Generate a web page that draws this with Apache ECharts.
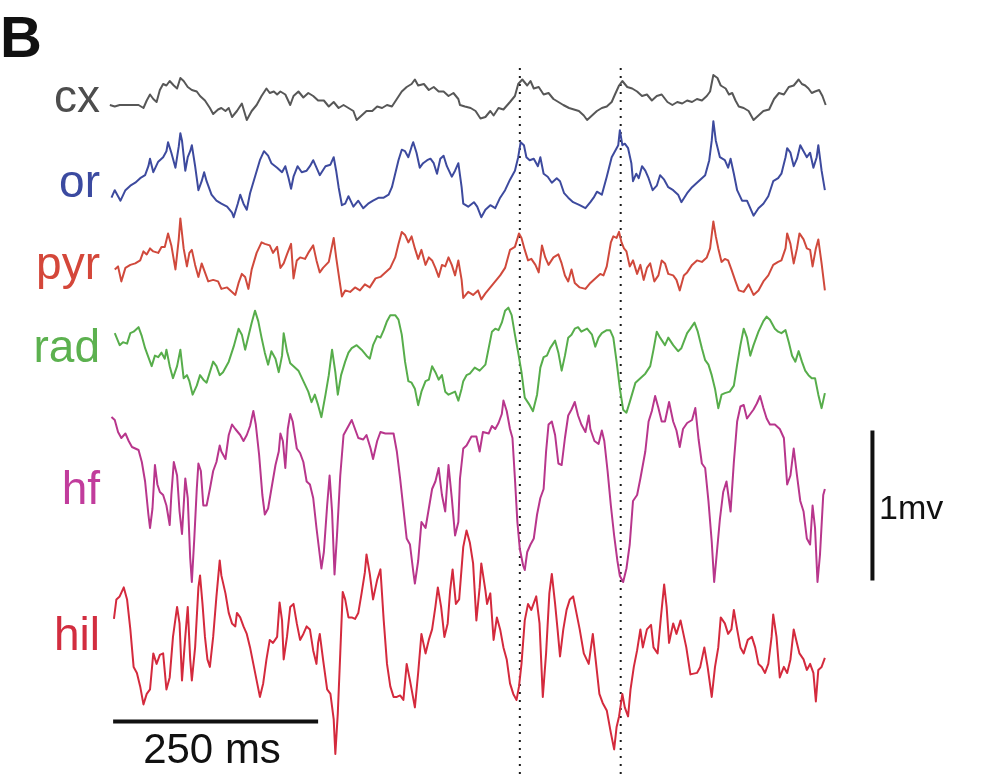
<!DOCTYPE html>
<html>
<head>
<meta charset="utf-8">
<style>
  html, body { margin: 0; padding: 0; background: #ffffff; }
  #chart { width: 1000px; height: 774px; }
</style>
<script src="https://cdn.jsdelivr.net/npm/echarts@6/dist/echarts.min.js"></script>
</head>
<body>
<div id="chart"></div>
<script>
// Channel names, top to bottom
const traceNames = ['cx', 'or', 'pyr', 'rad', 'hf', 'hil'];

// Each trace: [time (ms), potential (mV, relative to the channel's own baseline)]
const cxTrace = [[12,0],[18,-0.01],[24,0],[33,0],[41,0],[47,0],[53,-0.02],[57,0.03],[61,0.07],[65,0.04],[69,0.02],[73,0.10],[77,0.14],[81,0.13],[85,0.16],[90,0.13],[94,0.11],[98,0.18],[102,0.16],[107,0.12],[112,0.10],[118,0.09],[122,0.06],[128,0.03],[134,-0.02],[138,-0.06],[144,-0.03],[148,-0.02],[153,-0.04],[157,-0.02],[161,-0.08],[167,-0.04],[173,0.01],[179,-0.10],[185,-0.04],[191,0],[197,0.06],[203,0.11],[207,0.08],[212,0.09],[216,0.07],[220,0.09],[226,0.07],[232,0],[236,0.06],[242,0.09],[248,0.05],[254,0.08],[260,0.06],[266,0.03],[273,0.03],[279,-0.01],[285,0.02],[291,-0.02],[297,0],[303,-0.02],[309,-0.04],[313,-0.10],[319,-0.07],[325,-0.04],[332,-0.04],[338,-0.01],[344,-0.02],[350,0],[356,-0.01],[362,0.04],[368,0.09],[374,0.12],[380,0.14],[384,0.17],[388,0.13],[395,0.14],[401,0.10],[407,0.12],[413,0.09],[419,0.09],[425,0.06],[431,0.08],[437,0.04],[439,0],[445,-0.01],[452,-0.02],[458,-0.04],[464,-0.09],[470,-0.08],[476,-0.04],[480,-0.07],[486,-0.02],[492,-0.03],[500,0.02],[506,0.06],[510,0.14],[515,0.17],[521,0.13],[525,0.16],[529,0.11],[535,0.12],[541,0.07],[547,0.08],[553,0.04],[559,0.02],[565,0],[572,-0.02],[578,-0.03],[584,-0.04],[590,-0.07],[594,-0.10],[600,-0.07],[606,-0.04],[612,-0.02],[618,-0.01],[624,0.02],[628,0.07],[633,0.13],[637,0.16],[643,0.12],[649,0.11],[655,0.09],[661,0.06],[667,0.07],[673,0.03],[679,0.06],[685,0.07],[692,0.02],[698,0],[704,0.02],[710,0.01],[716,0.03],[722,0.02],[728,0.04],[734,0.03],[740,0.06],[744,0.09],[748,0.20],[753,0.18],[757,0.13],[763,0.11],[767,0.07],[771,0.08],[775,0.03],[779,-0.01],[785,-0.02],[791,-0.04],[797,-0.10],[803,-0.07],[809,-0.04],[816,-0.03],[822,0.04],[828,0.08],[834,0.07],[840,0.12],[846,0.13],[852,0.17],[856,0.14],[860,0.13],[864,0.11],[868,0.08],[872,0.09],[877,0.10],[881,0.06],[885,0]];

const orTrace = [[14,-0.14],[18,-0.09],[22,-0.13],[25,-0.16],[31,-0.09],[37,-0.06],[43,-0.04],[49,-0.01],[55,0.01],[59,0.07],[61,0.12],[65,0.03],[71,0.10],[77,0.13],[81,0.17],[83,0.23],[87,0.16],[92,0.06],[96,0.20],[98,0.29],[100,0.24],[104,0.04],[107,0.13],[110,0.17],[112,0.21],[116,0.07],[120,-0.09],[124,-0.03],[127,0.03],[130,-0.03],[136,-0.12],[142,-0.16],[148,-0.18],[155,-0.20],[161,-0.24],[163,-0.27],[168,-0.18],[171,-0.12],[175,-0.18],[179,-0.22],[183,-0.11],[189,0],[195,0.11],[200,0.17],[205,0.14],[209,0.09],[216,0.06],[222,0.03],[226,0.07],[230,-0.01],[233,-0.08],[236,0],[241,0.07],[246,0.03],[252,0.04],[256,0.07],[260,0.11],[264,0.06],[268,0.01],[275,0.07],[281,0.08],[285,0.13],[288,0.04],[291,-0.07],[295,-0.19],[299,-0.18],[303,-0.13],[309,-0.20],[315,-0.16],[321,-0.21],[327,-0.18],[333,-0.16],[340,-0.14],[346,-0.14],[352,-0.12],[356,-0.07],[360,0.02],[364,0.11],[368,0.18],[372,0.17],[376,0.13],[380,0.20],[382,0.23],[386,0.16],[390,0.06],[394,0.09],[399,0.11],[403,0.12],[407,0.09],[411,0.02],[415,0.12],[419,0.14],[423,0.07],[429,0],[433,0.04],[437,0.09],[441,-0.07],[443,-0.18],[449,-0.20],[456,-0.17],[460,-0.20],[465,-0.27],[470,-0.22],[476,-0.19],[482,-0.21],[488,-0.14],[494,-0.09],[500,-0.02],[506,0.04],[510,0.13],[513,0.23],[517,0.21],[520,0.13],[524,0.11],[529,0.12],[534,0.07],[537,0.13],[541,0.02],[546,0],[551,-0.04],[557,-0.01],[561,-0.03],[566,-0.11],[571,-0.14],[577,-0.17],[581,-0.18],[585,-0.19],[592,-0.21],[598,-0.17],[602,-0.14],[606,-0.10],[612,-0.12],[618,0],[624,0.13],[628,0.17],[632,0.21],[634,0.31],[637,0.21],[640,0.22],[644,0.19],[648,0.09],[650,-0.03],[654,0.02],[657,-0.01],[661,0.07],[665,0.04],[669,-0.01],[674,-0.09],[679,-0.06],[683,0.01],[688,-0.02],[693,-0.07],[699,-0.09],[705,-0.12],[709,-0.17],[716,-0.11],[722,-0.07],[728,-0.04],[734,-0.01],[738,0.01],[743,0.11],[746,0.24],[748,0.37],[751,0.24],[756,0.13],[762,0.11],[766,0.06],[769,0.12],[773,0.02],[777,-0.09],[783,-0.16],[789,-0.16],[797,-0.26],[803,-0.21],[809,-0.18],[815,-0.13],[821,-0.03],[827,-0.01],[831,0.02],[836,0.13],[838,0.19],[842,0.16],[846,0.07],[850,0.12],[854,0.21],[858,0.17],[862,0.13],[866,0.16],[870,0.06],[874,0.13],[876,0.21],[880,0.04],[884,-0.09]];

const pyrTrace = [[18,-0.04],[22,-0.02],[26,-0.12],[31,-0.03],[37,-0.01],[43,0],[49,0.02],[53,0.08],[57,0.06],[61,0.10],[65,0.08],[71,0.07],[75,0.11],[79,0.11],[83,0.20],[87,0.12],[92,-0.04],[96,0.16],[98,0.30],[102,0.10],[106,-0.02],[109,0.07],[112,0.09],[116,-0.01],[120,-0.09],[124,0],[128,-0.06],[132,-0.12],[138,-0.11],[144,-0.12],[148,-0.17],[155,-0.16],[161,-0.19],[165,-0.21],[169,-0.13],[173,-0.07],[177,-0.09],[181,-0.17],[185,-0.04],[191,0.07],[197,0.14],[201,0.13],[207,0.12],[211,0.07],[216,0.11],[220,-0.03],[224,0],[228,0.06],[233,0.13],[236,-0.10],[240,0.02],[244,0.04],[250,0.03],[254,0.07],[260,0.12],[264,0.02],[268,-0.06],[272,-0.03],[279,0.01],[285,0.17],[288,0.04],[292,-0.11],[295,-0.22],[299,-0.18],[305,-0.19],[311,-0.16],[317,-0.18],[323,-0.14],[329,-0.16],[336,-0.10],[342,-0.09],[348,-0.06],[354,-0.03],[360,0.04],[364,0.13],[368,0.21],[372,0.19],[376,0.14],[380,0.18],[384,0.10],[388,0.03],[392,0.09],[397,-0.01],[401,0.04],[405,0.02],[409,-0.03],[413,-0.09],[417,-0.01],[421,-0.02],[425,0.04],[429,-0.01],[433,-0.08],[437,0.02],[441,-0.11],[443,-0.23],[449,-0.19],[455,-0.21],[461,-0.18],[465,-0.24],[470,-0.20],[476,-0.16],[482,-0.12],[488,-0.08],[494,-0.03],[500,0.09],[506,0.11],[511,0.20],[514,0.17],[518,0.09],[522,0.02],[526,0.03],[531,-0.01],[535,-0.06],[539,0.12],[543,0.04],[547,-0.01],[553,0.04],[559,0.06],[563,0],[567,-0.08],[571,-0.12],[575,-0.04],[579,-0.13],[585,-0.16],[592,-0.17],[598,-0.13],[604,-0.10],[610,-0.07],[614,-0.08],[618,-0.02],[623,0.14],[626,0.18],[630,0.17],[633,0.21],[636,0.14],[639,0.10],[642,0.08],[646,-0.02],[650,0.02],[655,-0.07],[659,-0.01],[663,-0.11],[667,-0.03],[671,0],[676,-0.12],[681,-0.08],[685,0.02],[689,0],[693,-0.07],[699,-0.08],[703,-0.11],[707,-0.18],[712,-0.08],[716,-0.06],[722,-0.01],[728,0.02],[734,0.01],[740,0.04],[744,0.10],[748,0.28],[751,0.18],[754,0.10],[758,0.01],[762,0.03],[766,0.02],[770,-0.04],[775,-0.12],[779,-0.18],[785,-0.19],[791,-0.14],[797,-0.21],[803,-0.18],[809,-0.12],[815,-0.08],[821,-0.01],[827,0.01],[831,0.02],[836,0.10],[838,0.20],[842,0.13],[846,0],[850,0.10],[853,0.20],[858,0.16],[862,0.10],[866,0.09],[869,-0.02],[873,0.10],[876,0.16],[880,0],[884,-0.18]];

const radTrace = [[18,0.19],[24,0.11],[28,0.13],[33,0.12],[37,0.19],[41,0.20],[47,0.23],[51,0.17],[55,0.09],[59,0.03],[63,-0.03],[67,0.04],[71,0.03],[75,0.06],[79,0.02],[81,0.08],[85,-0.03],[89,-0.11],[94,-0.03],[98,0.08],[102,-0.11],[106,-0.09],[109,-0.13],[113,-0.22],[118,-0.16],[122,-0.09],[126,-0.12],[130,-0.14],[134,-0.07],[138,0],[142,-0.03],[146,-0.09],[150,-0.07],[157,0],[163,0.10],[169,0.22],[173,0.18],[177,0.08],[181,0.17],[185,0.26],[189,0.34],[193,0.27],[197,0.16],[201,0.06],[205,-0.02],[209,0.07],[214,0.02],[218,-0.07],[222,0.04],[224,0.19],[228,0.07],[232,-0.01],[236,-0.03],[242,-0.06],[248,-0.13],[254,-0.20],[258,-0.27],[262,-0.22],[266,-0.29],[270,-0.37],[275,-0.22],[279,-0.09],[283,0.08],[287,-0.07],[290,-0.22],[294,-0.09],[299,0],[303,0.06],[307,0.09],[313,0.11],[319,0.08],[325,0.04],[329,0.02],[333,0.11],[338,0.17],[342,0.16],[346,0.21],[350,0.27],[354,0.31],[360,0.31],[364,0.28],[368,0.18],[372,0],[376,-0.13],[380,-0.14],[384,-0.18],[388,-0.29],[392,-0.20],[397,-0.13],[401,-0.12],[405,-0.03],[409,-0.07],[413,-0.12],[417,-0.09],[421,-0.20],[425,-0.22],[429,-0.21],[433,-0.20],[437,-0.26],[441,-0.18],[443,-0.13],[447,-0.09],[451,-0.08],[457,-0.04],[463,-0.06],[470,-0.02],[474,0.09],[478,0.20],[482,0.22],[486,0.21],[490,0.26],[494,0.34],[498,0.36],[502,0.31],[506,0.18],[510,0.06],[514,-0.07],[518,-0.24],[524,-0.29],[528,-0.33],[533,-0.22],[537,-0.04],[541,0.03],[545,0.04],[549,0.09],[555,0.14],[559,0.06],[563,-0.06],[567,0.04],[571,0.16],[575,0.18],[579,0.22],[583,0.23],[587,0.20],[594,0.22],[600,0.18],[604,0.10],[608,0.16],[612,0.19],[618,0.21],[622,0.21],[626,0.16],[630,0],[634,-0.18],[638,-0.32],[642,-0.34],[646,-0.27],[653,-0.14],[659,-0.11],[665,-0.08],[671,-0.03],[675,0.08],[679,0.20],[683,0.16],[689,0.11],[693,0.16],[699,0.11],[705,0.07],[709,0.09],[716,0.19],[720,0.22],[725,0.26],[729,0.20],[734,0.09],[738,0.01],[742,-0.02],[746,-0.09],[750,-0.18],[754,-0.31],[758,-0.22],[762,-0.21],[768,-0.20],[773,-0.16],[777,-0.02],[781,0.11],[785,0.22],[789,0.16],[793,0.04],[797,0.11],[803,0.20],[809,0.27],[813,0.30],[817,0.28],[823,0.22],[827,0.20],[831,0.19],[836,0.21],[840,0.13],[844,0.04],[848,0],[852,0.07],[856,0],[860,-0.06],[864,-0.09],[868,-0.11],[872,-0.11],[876,-0.22],[880,-0.31],[884,-0.21]];

const hfTrace = [[14,0.52],[18,0.50],[22,0.42],[26,0.38],[31,0.41],[35,0.36],[39,0.32],[43,0.31],[47,0.30],[51,0.22],[55,0.09],[59,-0.13],[61,-0.22],[64,-0.09],[67,0.20],[70,0.07],[73,0.02],[77,0],[81,-0.07],[85,-0.20],[87,0],[90,0.22],[94,0.13],[97,-0.11],[100,-0.26],[104,0.11],[107,-0.02],[110,-0.42],[112,-0.58],[115,-0.29],[118,0.04],[120,0.21],[123,0.16],[126,-0.07],[130,-0.07],[134,0.04],[138,0.16],[142,0.22],[146,0.33],[148,0.29],[153,0.24],[157,0.40],[161,0.47],[165,0.44],[171,0.40],[175,0.36],[179,0.40],[183,0.46],[187,0.56],[190,0.47],[194,0.27],[198,0],[201,-0.13],[205,-0.09],[209,0.04],[214,0.20],[218,0.29],[220,0.41],[223,0.36],[226,0.18],[229,0.44],[232,0.54],[235,0.49],[240,0.31],[244,0.28],[248,0.22],[252,0.09],[256,0.07],[260,-0.02],[264,-0.22],[268,-0.40],[270,-0.49],[273,-0.38],[277,-0.07],[280,0.13],[283,-0.11],[286,-0.53],[289,-0.27],[293,0.13],[297,0.40],[301,0.44],[307,0.50],[311,0.44],[315,0.38],[321,0.37],[325,0.40],[330,0.31],[333,0.24],[338,0.36],[342,0.42],[348,0.41],[354,0.41],[358,0.41],[362,0.29],[366,0.11],[370,-0.09],[374,-0.29],[378,-0.33],[382,-0.51],[384,-0.59],[388,-0.44],[392,-0.18],[397,-0.22],[401,-0.09],[405,0.04],[409,0.09],[413,0.18],[417,0],[421,-0.11],[425,0.20],[429,-0.02],[433,-0.27],[437,-0.18],[439,0.11],[443,0.31],[447,0.33],[453,0.39],[459,0.39],[463,0.29],[467,0.42],[474,0.41],[478,0.46],[482,0.44],[486,0.48],[490,0.54],[492,0.63],[496,0.56],[500,0.44],[503,0.38],[506,0.11],[509,-0.18],[512,-0.36],[516,-0.47],[518,-0.50],[521,-0.38],[525,-0.33],[529,-0.29],[533,-0.13],[537,-0.02],[541,0.04],[544,0.29],[547,0.47],[551,0.49],[555,0.40],[559,0.21],[563,0.20],[567,0.38],[571,0.53],[575,0.57],[579,0.62],[583,0.53],[587,0.47],[592,0.42],[596,0.53],[598,0.44],[603,0.36],[608,0.34],[612,0.43],[615,0.36],[619,0.16],[623,-0.07],[627,-0.27],[631,-0.44],[634,-0.54],[638,-0.58],[642,-0.49],[646,-0.33],[650,-0.04],[655,0],[659,0.11],[665,0.29],[669,0.49],[673,0.56],[677,0.66],[681,0.58],[685,0.49],[689,0.49],[694,0.62],[699,0.49],[703,0.43],[707,0.32],[711,0.44],[716,0.48],[722,0.50],[726,0.58],[730,0.37],[734,0.21],[738,0.18],[742,-0.04],[746,-0.31],[749,-0.58],[752,-0.40],[756,-0.16],[760,0.02],[764,0.09],[769,-0.11],[773,0.22],[777,0.49],[781,0.59],[785,0.60],[789,0.51],[793,0.54],[797,0.57],[801,0.61],[805,0.66],[809,0.58],[813,0.51],[817,0.47],[823,0.47],[829,0.44],[834,0.38],[838,0.07],[842,0.13],[846,0.31],[850,0.13],[854,-0.04],[858,-0.11],[862,-0.29],[866,-0.33],[869,-0.07],[872,-0.22],[875,-0.58],[878,-0.40],[882,0],[884,0.04]];

const hilTrace = [[17,0.23],[20,0.36],[24,0.38],[29,0.44],[33,0.36],[37,0.16],[41,-0.09],[45,-0.13],[49,-0.22],[53,-0.34],[57,-0.27],[61,-0.24],[65,0],[69,-0.07],[73,-0.01],[77,0],[81,-0.24],[85,-0.16],[89,0.11],[94,0.31],[97,0.20],[100,-0.18],[104,0.11],[107,0.31],[110,-0.04],[112,-0.18],[116,0.04],[120,0.44],[122,0.52],[125,0.33],[128,0.11],[131,-0.04],[134,-0.09],[138,0.11],[142,0.38],[146,0.62],[148,0.52],[153,0.40],[157,0.27],[161,0.20],[165,0.18],[167,0.27],[171,0.24],[175,0.18],[179,0.13],[183,0.04],[187,-0.07],[191,-0.18],[195,-0.29],[199,-0.20],[203,-0.04],[207,0.09],[211,0.07],[216,0.11],[219,0.34],[222,0.22],[224,-0.04],[228,0.11],[232,0.31],[236,0.33],[240,0.20],[244,0.09],[248,0.13],[252,0.18],[256,0.16],[260,0.02],[264,-0.07],[266,0.07],[268,0.13],[272,-0.04],[277,-0.24],[281,-0.27],[285,-0.44],[287,-0.67],[290,-0.40],[293,0],[296,0.41],[299,0.36],[303,0.24],[307,0.24],[311,0.23],[315,0.27],[319,0.40],[323,0.54],[325,0.66],[329,0.53],[333,0.36],[338,0.49],[342,0.56],[346,0.22],[350,-0.07],[354,-0.22],[358,-0.29],[362,-0.29],[366,-0.28],[370,-0.31],[374,-0.07],[378,-0.18],[384,-0.36],[388,-0.13],[392,0.13],[397,0],[401,0.09],[405,0.16],[409,0.31],[412,0.44],[416,0.31],[420,0.11],[424,0.20],[427,0.42],[430,0.56],[434,0.33],[438,0.36],[443,0.71],[447,0.82],[451,0.74],[455,0.60],[459,0.22],[463,0.44],[465,0.60],[470,0.42],[472,0.33],[476,0.40],[480,0.09],[484,0.24],[488,0.16],[492,0.04],[496,-0.04],[500,-0.20],[504,-0.27],[508,-0.31],[511,-0.22],[514,-0.07],[518,0.22],[522,0.33],[526,0.29],[532,0.38],[536,0.20],[540,-0.29],[544,0],[548,0.40],[551,0.53],[555,0.33],[558,0.16],[561,-0.02],[565,0.16],[569,0.29],[573,0.36],[577,0.38],[581,0.27],[585,0.16],[590,0],[596,-0.07],[601,0.13],[604,-0.02],[609,-0.27],[613,-0.33],[618,-0.38],[623,-0.53],[627,-0.64],[630,-0.49],[633,-0.42],[637,-0.27],[640,-0.36],[644,-0.42],[647,-0.24],[651,-0.09],[655,0.02],[659,0.16],[662,0.04],[667,0.16],[672,0.19],[675,0.04],[680,0],[684,0.24],[688,0.46],[691,0.31],[694,0.07],[699,0.20],[703,0.13],[708,0.22],[715,0.04],[720,-0.14],[728,-0.13],[732,-0.09],[737,0.04],[741,-0.09],[746,-0.29],[750,-0.09],[754,0.04],[757,0.24],[762,0.20],[766,0.13],[770,0.16],[773,0.29],[777,0.16],[781,0.04],[785,0],[790,0.09],[795,0.11],[799,0.04],[803,-0.07],[807,-0.09],[811,-0.13],[815,-0.07],[819,0.11],[821,0.26],[825,0.11],[829,-0.16],[834,-0.09],[838,-0.13],[842,-0.04],[846,0.16],[849,0.09],[853,0],[858,-0.04],[862,-0.11],[866,-0.07],[870,-0.13],[873,-0.32],[876,-0.11],[880,-0.09],[884,-0.03]];

const traces = [cxTrace, orTrace, pyrTrace, radTrace, hfTrace, hilTrace];

// Scale bars and event markers
const timeBarMs = 250;
const voltBarMv = 1;
const markerTimesMs = [512, 635];

// Layout: baseline of each channel on the shared mV axis, and colours
const traceBaseMv = [4.46, 3.982, 3.404, 2.749, 1.86, 0.804];
const traceColors = ['#575757', '#3d4a9e', '#d0493c', '#57ad4b', '#b8368c', '#d42a3d'];
const labelColors = ['#4d4d4d', '#3b4aa0', '#d4473a', '#5cb14f', '#c13c9c', '#d22d3f'];
const labelMidY = [99, 184, 266, 349, 491, 637];

const chart = echarts.init(document.getElementById('chart'), null, { renderer: 'canvas' });

const series = traces.map((tr, i) => ({
  name: traceNames[i],
  type: 'line',
  data: tr.map(([t, v]) => [t, traceBaseMv[i] + v]),
  showSymbol: false,
  symbol: 'none',
  silent: true,
  lineStyle: { color: traceColors[i], width: 2, join: 'round' },
  z: 3
}));

// Dotted vertical event markers
markerTimesMs.forEach((t) => {
  series.push({
    type: 'line',
    data: [[t, 0], [t, 4.73]],
    showSymbol: false,
    symbol: 'none',
    silent: true,
    lineStyle: { color: '#1a1a1a', width: 2, type: [2, 6] },
    z: 2
  });
});

// 250 ms time scale bar
const timeBarStart = 16;
const timeBarLevel = 0.35;
series.push({
  type: 'line',
  data: [[timeBarStart, timeBarLevel], [timeBarStart + timeBarMs, timeBarLevel]],
  showSymbol: false, symbol: 'none', silent: true,
  lineStyle: { color: '#111', width: 4 }
});

// 1 mV voltage scale bar
const voltBarTime = 942;
const voltBarBottom = 1.29;
series.push({
  type: 'line',
  data: [[voltBarTime, voltBarBottom], [voltBarTime, voltBarBottom + voltBarMv]],
  showSymbol: false, symbol: 'none', silent: true,
  lineStyle: { color: '#111', width: 4 }
});

const font = '"Liberation Sans", Arial, sans-serif';
const graphic = [
  { type: 'text', left: 0, top: 12, style: { text: 'B', font: 'bold 58px ' + font, fill: '#111' } }
];
traceNames.forEach((name, i) => {
  graphic.push({
    type: 'text',
    x: 100, y: labelMidY[i],
    style: { text: name, font: '46px ' + font, fill: labelColors[i], align: 'right', verticalAlign: 'middle' }
  });
});
graphic.push({
  type: 'text', x: 212, y: 751,
  style: { text: timeBarMs + ' ms', font: '42px ' + font, fill: '#111', align: 'center', verticalAlign: 'middle' }
});
graphic.push({
  type: 'text', x: 879, y: 510,
  style: { text: voltBarMv + 'mv', font: '34px ' + font, fill: '#111', align: 'left', verticalAlign: 'middle' }
});

chart.setOption({
  animation: false,
  backgroundColor: '#ffffff',
  grid: { left: 100, top: 0, width: 820, height: 774, containLabel: false },
  xAxis: { type: 'value', min: 0, max: 1000, show: false },
  yAxis: { type: 'value', min: 0, max: 5.16, show: false },
  series: series,
  graphic: graphic
});
</script>
</body>
</html>
